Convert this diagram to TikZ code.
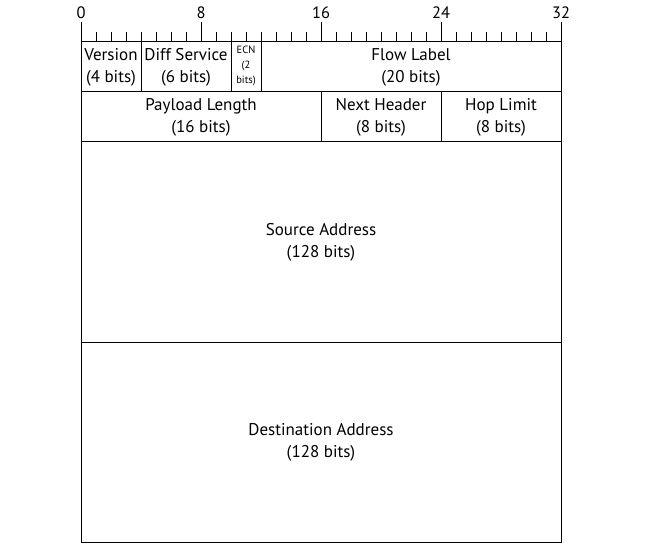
\documentclass[tikz,border=0pt]{standalone}
\usepackage{fontspec}
\setmainfont{PT Sans}
\begin{document}
\begin{tikzpicture}[x=1pt,y=-1pt,
  field/.style={draw, line width=1pt, inner sep=0pt, align=center,
    font=\fontsize{17}{22}\selectfont},
  small/.style={font=\fontsize{10.5}{15}\selectfont, align=center, inner sep=0pt},
  ruler/.style={font=\fontsize{16.5}{18}\selectfont, inner sep=0pt},
  tickline/.style={line width=1pt}]
\useasboundingbox (0,0) rectangle (648,548);
% ruler
\foreach \i in {0,...,32}{
  \pgfmathsetmacro{\xx}{81+15*\i}
  \draw[tickline] (\xx,32) -- (\xx,42);
}
\foreach \i in {0,8,16,24,32}{
  \pgfmathsetmacro{\xx}{81+15*\i}
  \draw[tickline] (\xx,22) -- (\xx,42);
  \node[ruler] (lab\i) at (\xx,13) {\i};
}
% row 1
\node[field, minimum width=60pt, minimum height=50pt] (version) at (111,67) {Version\\(4 bits)};
\node[field, minimum width=90pt, minimum height=50pt] (diff) at (186,67) {Diff Service\\(6 bits)};
\node[field, minimum width=30pt, minimum height=50pt] (ecn) at (246,67) {};
\node[small] (ecntext) at (246,66) {ECN\\(2\\bits)};
\node[field, minimum width=300pt, minimum height=50pt] (flow) at (411,67) {Flow Label\\(20 bits)};
% row 2
\node[field, minimum width=240pt, minimum height=50pt] (payload) at (201,117) {Payload Length\\(16 bits)};
\node[field, minimum width=120pt, minimum height=50pt] (next) at (381,117) {Next Header\\(8 bits)};
\node[field, minimum width=120pt, minimum height=50pt] (hop) at (501,117) {Hop Limit\\(8 bits)};
% addresses
\node[field, minimum width=480pt, minimum height=200pt] (src) at (321,242) {Source Address\\(128 bits)};
\node[field, minimum width=480pt, minimum height=200pt] (dst) at (321,442) {Destination Address\\(128 bits)};
\end{tikzpicture}
\end{document}
